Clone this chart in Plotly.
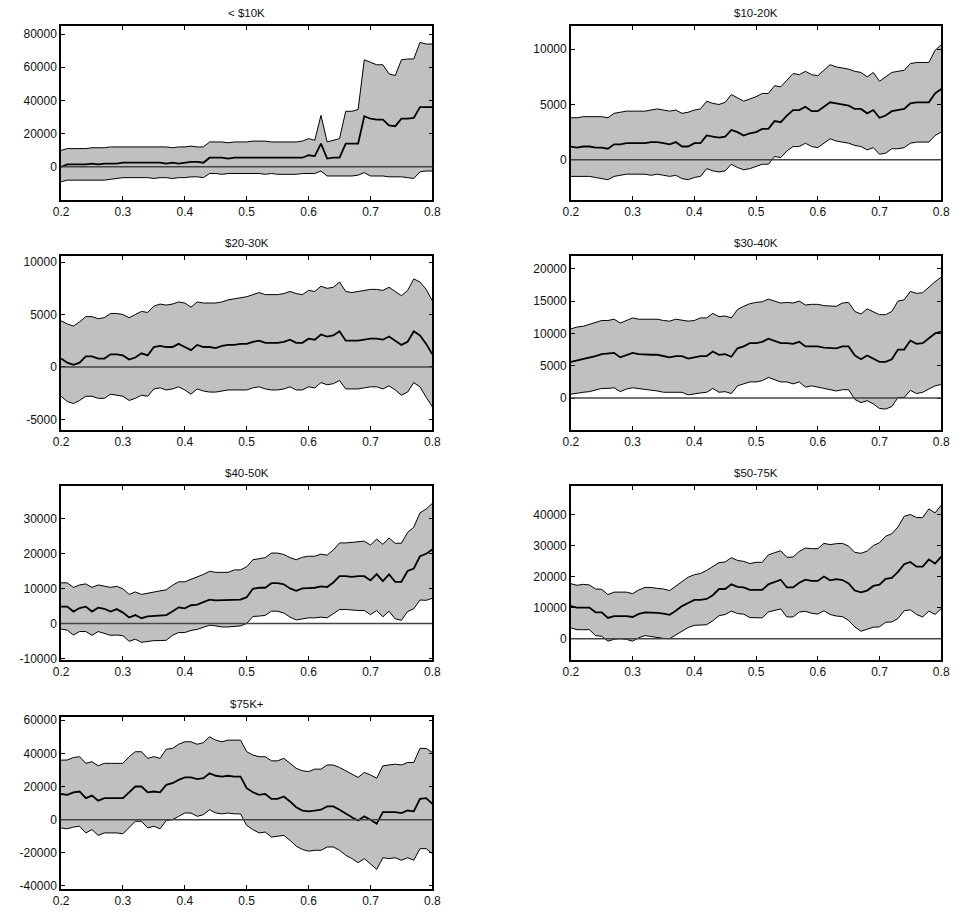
import plotly.graph_objects as go

x_vals = [round(0.20 + 0.01 * i, 2) for i in range(61)]

titles = ["< $10K", "$10-20K", "$20-30K", "$30-40K", "$40-50K", "$50-75K", "$75K+"]

# ---- < $10K
p1_upper = [9900, 11000, 11000, 11000, 11000, 11500, 11500, 11500, 12000, 12000,
            12000, 12000, 12000, 12000, 12000, 12000, 12000, 12000, 11500, 12000,
            12000, 12500, 12000, 12000, 15000, 15000, 15000, 14500, 15000, 15000,
            15000, 15500, 15500, 15500, 15000, 15000, 15000, 15000, 15000, 15500,
            17000, 16000, 31000, 15000, 16000, 17000, 33500, 33500, 34500, 64500,
            63000, 61500, 61500, 56000, 55000, 64500, 65000, 65000, 75000, 74000, 74000]
p1_mid = [0, 1500, 1500, 1500, 1500, 2000, 1500, 2000, 2000, 2000,
          2500, 2500, 2500, 2500, 2500, 2500, 2500, 2000, 2500, 2000,
          2500, 3000, 3000, 2500, 5500, 5500, 5500, 5000, 5500, 5500,
          5500, 5500, 5500, 5500, 5500, 5500, 5500, 5500, 5500, 5500,
          7000, 6500, 14000, 5000, 5500, 5500, 14000, 14000, 14000, 30500,
          29000, 28500, 28500, 25000, 24500, 29000, 29000, 29500, 36000, 36000, 36000]
p1_lower = [-9000, -8000, -8000, -8000, -8000, -8000, -8000, -8000, -7500, -7000,
            -6500, -6500, -6500, -6500, -6500, -7000, -6500, -6500, -7000, -6500,
            -6500, -6000, -6000, -6500, -4000, -4000, -4500, -4000, -4000, -4000,
            -4000, -4000, -4000, -4500, -4000, -4500, -4500, -4500, -4500, -4000,
            -4000, -4000, -2500, -5500, -5500, -5500, -5500, -5500, -5000, -3500,
            -5500, -5500, -5500, -6000, -6000, -6000, -6500, -7000, -3000, -2500, -2500]

# ---- $10-20K
p2_upper = [3800, 3800, 3900, 3900, 3900, 3900, 3800, 4200, 4300, 4400,
            4400, 4400, 4400, 4500, 4600, 4500, 4400, 4500, 4200, 4300,
            4500, 4600, 5300, 5100, 5000, 5200, 5900, 5600, 5300, 5500,
            5700, 6000, 6000, 6700, 6600, 7200, 7800, 7700, 8000, 7700,
            7600, 8100, 8600, 8400, 8300, 8200, 8000, 7900, 7500, 7900,
            7100, 7500, 7900, 8000, 8100, 8700, 8800, 8800, 8800, 9900, 10400]
p2_mid = [1200, 1100, 1200, 1200, 1100, 1100, 1000, 1400, 1400, 1500,
          1500, 1500, 1500, 1600, 1600, 1500, 1400, 1600, 1200, 1200,
          1500, 1500, 2200, 2100, 2000, 2100, 2700, 2500, 2200, 2400,
          2500, 2800, 2800, 3500, 3400, 4000, 4500, 4500, 4800, 4400,
          4400, 4800, 5200, 5100, 5000, 4900, 4600, 4600, 4200, 4500,
          3800, 4000, 4400, 4500, 4600, 5100, 5200, 5200, 5200, 6000, 6400]
p2_lower = [-1500, -1500, -1500, -1500, -1600, -1700, -1800, -1500, -1400, -1300,
            -1300, -1300, -1300, -1400, -1300, -1400, -1500, -1400, -1700, -1800,
            -1600, -1500, -800, -1000, -1100, -1000, -400, -700, -900, -800,
            -600, -400, -400, 300, 200, 800, 1200, 1200, 1500, 1200,
            1100, 1500, 1900, 1700, 1600, 1500, 1300, 1200, 900, 1100,
            500, 600, 1000, 1000, 1100, 1500, 1600, 1600, 1600, 2200, 2500]

# ---- $20-30K
p3_upper = [4400, 4100, 3900, 4300, 4800, 4800, 4600, 4700, 5100, 5100,
            5000, 4700, 5000, 5300, 5200, 5800, 6000, 5900, 6000, 6200,
            6100, 5700, 6200, 6100, 6100, 6100, 6200, 6400, 6500, 6600,
            6700, 6900, 7100, 6900, 6900, 6900, 7000, 7200, 7000, 6900,
            7300, 7200, 7700, 7500, 7600, 8100, 7200, 7100, 7200, 7300,
            7400, 7400, 7300, 7600, 7200, 6800, 7300, 8400, 8100, 7400, 6300]
p3_mid = [800, 400, 200, 400, 1000, 1000, 800, 800, 1200, 1200,
          1100, 700, 900, 1300, 1100, 1900, 2000, 1900, 1900, 2200,
          1900, 1600, 2100, 1900, 1900, 1800, 2000, 2100, 2100, 2200,
          2200, 2400, 2500, 2300, 2300, 2300, 2400, 2600, 2300, 2300,
          2700, 2600, 3100, 2900, 3000, 3400, 2500, 2500, 2500, 2600,
          2700, 2700, 2600, 2900, 2500, 2100, 2400, 3400, 3000, 2200, 1200]
p3_lower = [-2800, -3300, -3500, -3200, -2800, -2800, -3000, -3000, -2600, -2700,
            -2800, -3200, -3000, -2700, -2800, -2100, -2000, -2200, -2100, -1900,
            -2200, -2600, -2100, -2300, -2400, -2400, -2300, -2200, -2200, -2200,
            -2200, -2000, -1900, -2100, -2200, -2200, -2100, -1900, -2200, -2200,
            -1900, -2000, -1500, -1700, -1600, -1300, -2100, -2100, -2100, -2000,
            -1900, -1900, -2100, -1800, -2200, -2700, -2400, -1500, -1900, -2900, -3800]

# ---- $30-40K
p4_upper = [10700, 11000, 11100, 11400, 11700, 12000, 12000, 12200, 11600, 12000,
            12400, 12200, 12200, 12200, 12200, 12000, 11900, 12200, 12100, 11900,
            12000, 12400, 12400, 13100, 12600, 12700, 12400, 13700, 14200, 14600,
            14800, 14900, 15300, 15000, 14700, 14800, 14700, 15000, 14400, 14500,
            14500, 14300, 14200, 14200, 14700, 14800, 13400, 13000, 13800, 13300,
            12900, 12900, 13400, 15000, 15200, 16500, 16200, 16300, 17200, 18000, 18700]
p4_mid = [5600, 5800, 6000, 6200, 6500, 6800, 6900, 7000, 6300, 6700,
          7000, 6800, 6700, 6700, 6700, 6500, 6300, 6500, 6500, 6100,
          6300, 6500, 6500, 7200, 6700, 6800, 6400, 7700, 8000, 8500,
          8500, 8700, 9200, 8900, 8500, 8500, 8400, 8700, 8000, 8000,
          8000, 7800, 7700, 7700, 8000, 8000, 6600, 6000, 6600, 6100,
          5600, 5600, 6000, 7500, 7500, 8900, 8400, 8500, 9300, 10000, 10300]
p4_lower = [600, 800, 900, 1000, 1300, 1500, 1500, 1600, 1000, 1400,
            1600, 1500, 1300, 1200, 1100, 900, 900, 900, 900, 500,
            700, 800, 900, 1500, 900, 1000, 700, 1900, 2200, 2500,
            2500, 2700, 3200, 2900, 2500, 2500, 2200, 2500, 1700, 1900,
            1700, 1500, 1300, 1100, 1300, 1300, -200, -700, -400, -900,
            -1600, -1700, -1300, 100, 100, 1200, 700, 900, 1400, 1900, 2100]

# ---- $40-50K
p5_upper = [11600, 11600, 10300, 11000, 11300, 10300, 11000, 10600, 10300, 10600,
            9900, 8300, 9000, 8300, 8700, 9000, 9300, 9600, 10900, 11900,
            11900, 12600, 13200, 14000, 14900, 14600, 14600, 14600, 15300, 15300,
            16200, 18200, 18500, 18800, 20100, 20100, 19700, 18800, 18200, 18900,
            19200, 19200, 19800, 19500, 21000, 23000, 23000, 23200, 23500, 23500,
            22400, 24100, 22600, 24400, 22900, 22900, 26000, 27500, 31600, 32700, 34300]
p5_mid = [4800, 4800, 3400, 4400, 4800, 3400, 4500, 4200, 3400, 4100,
          3100, 1700, 2400, 1500, 2000, 2200, 2200, 2400, 3400, 4600,
          4300, 5200, 5400, 6000, 6800, 6600, 6600, 6600, 6700, 6800,
          7500, 9900, 10200, 10200, 11500, 11500, 11200, 10000, 9300, 10000,
          10100, 10200, 10600, 10400, 11700, 13500, 13500, 13300, 13500, 13500,
          12300, 14100, 12100, 14000, 11900, 11900, 15000, 15700, 19200, 19900, 21100]
p5_lower = [-1600, -1900, -3300, -2300, -2300, -3400, -2300, -2800, -3400, -3300,
            -3500, -5100, -4500, -5400, -5100, -4900, -4900, -4800, -3400, -2600,
            -2600, -2000, -1700, -1000, -500, -700, -1000, -1000, -800, -700,
            0, 2000, 2100, 2300, 3500, 3500, 3000, 1800, 1000, 1300,
            1600, 1600, 1800, 1600, 2700, 4000, 4000, 3800, 3700, 3700,
            2500, 3700, 1900, 3500, 1300, 900, 3400, 4200, 6700, 6600, 7200]

# ---- $50-75K
p6_upper = [17700, 17200, 17500, 17300, 16000, 15900, 14200, 15000, 15000, 15000,
            14500, 15700, 16500, 16500, 16200, 16000, 15500, 17000, 18500, 19800,
            20600, 21000, 22000, 23200, 24500, 24700, 26100, 25200, 24900, 24200,
            24600, 24600, 27000, 27700, 28300, 26200, 26300, 28100, 29200, 29000,
            29000, 30700, 30300, 30600, 30700, 29800, 27800, 27500, 28200, 30000,
            30900, 33000, 33800, 36000, 39400, 40000, 39000, 39000, 41800, 40500, 43000]
p6_mid = [10500, 10000, 10000, 10000, 8500, 8500, 6700, 7300, 7300, 7300,
          7000, 8000, 8500, 8500, 8300, 8100, 7700, 9000, 10500, 11500,
          12500, 12500, 12800, 14000, 16000, 16000, 17500, 16700, 16500, 15700,
          15700, 15700, 17500, 18200, 19000, 16500, 16500, 18000, 19000, 18600,
          18600, 20000, 18800, 19200, 18900, 17800, 15500, 14900, 15500, 17000,
          17400, 19300, 19600, 21500, 24000, 24700, 23200, 23200, 25500, 24200, 26400]
p6_lower = [3500, 2900, 2900, 2900, 1000, 800, -800, -200, 0, -200,
            -800, 300, 1000, 700, 300, 100, 0, 1200, 2200, 3600,
            4300, 4300, 4500, 5800, 7400, 7800, 8900, 8100, 7900, 6800,
            6700, 6700, 8600, 9200, 9600, 7000, 7000, 8600, 8800, 8200,
            7900, 9000, 7800, 7300, 7100, 5900, 3800, 2400, 3000, 3700,
            3800, 5300, 5400, 6500, 9000, 9300, 7800, 7000, 8900, 7800, 9700]

# ---- $75K+
p7_upper = [35900, 36000, 37500, 38000, 34000, 35000, 32500, 34000, 34000, 34000,
            34000, 38000, 41000, 41000, 37000, 38000, 37000, 42500, 43000, 45500,
            47000, 47000, 45500, 46500, 50000, 48000, 47000, 48000, 48000, 48000,
            41000, 39000, 38000, 38000, 35500, 35500, 37000, 34000, 31000, 29500,
            29000, 30500, 30500, 33000, 33000, 31500, 29500, 27500, 25500, 28500,
            27000, 25000, 32500, 33000, 33500, 33000, 34500, 34500, 43000, 43000, 40500]
p7_mid = [15500, 15000, 16500, 17000, 13000, 14500, 11500, 13000, 13000, 13000,
          13000, 16500, 20000, 20000, 16500, 17000, 16500, 21000, 22000, 24000,
          25500, 25500, 24500, 25000, 28000, 26500, 26000, 26500, 26000, 26000,
          19000, 16500, 15000, 15500, 12500, 12500, 14000, 11000, 7500, 5500,
          5000, 5500, 6000, 8000, 8000, 6000, 3500, 1500, -500, 2000,
          0, -2500, 4500, 4500, 4500, 4000, 5500, 5000, 12500, 13000, 9500]
p7_lower = [-5000, -5500, -4500, -4000, -8000, -6000, -9500, -8000, -8000, -8000,
            -8500, -4500, -1000, -1000, -5000, -4000, -5500, -500, 0, 2000,
            4000, 4000, 2000, 3000, 6000, 4000, 3500, 4000, 3500, 3500,
            -3500, -6000, -8000, -7500, -10500, -10000, -9500, -12500, -16000, -18000,
            -19000, -18500, -18500, -16500, -16500, -18500, -21500, -23500, -26000, -23500,
            -27000, -30000, -23000, -23500, -23000, -24500, -23000, -24500, -17500, -17500, -20500]

x_ticks = [0.2, 0.3, 0.4, 0.5, 0.6, 0.7, 0.8]
x_tick_text = ["0.2", "0.3", "0.4", "0.5", "0.6", "0.7", "0.8"]

y_ticks = [
    [0, 20000, 40000, 60000, 80000],
    [0, 5000, 10000],
    [-5000, 0, 5000, 10000],
    [0, 5000, 10000, 15000, 20000],
    [-10000, 0, 10000, 20000, 30000],
    [0, 10000, 20000, 30000, 40000],
    [-40000, -20000, 0, 20000, 40000, 60000],
]
y_tick_text = [[str(v) for v in t] for t in y_ticks]

y_ranges = [
    [-20000, 85000],
    [-3640, 12120],
    [-6000, 10540],
    [-4900, 21900],
    [-10300, 39200],
    [-6700, 49100],
    [-42000, 62000],
]

panels = [
    (p1_lower, p1_mid, p1_upper),
    (p2_lower, p2_mid, p2_upper),
    (p3_lower, p3_mid, p3_upper),
    (p4_lower, p4_mid, p4_upper),
    (p5_lower, p5_mid, p5_upper),
    (p6_lower, p6_mid, p6_upper),
    (p7_lower, p7_mid, p7_upper),
]

W, H = 962, 919
col_x = [(54, 432), (573, 950)]
row_y = [(23, 199), (256, 431), (488, 663), (721, 895)]

fig = go.Figure()
font_family = "Liberation Sans, Arial, sans-serif"

for i, (lo, mid, up) in enumerate(panels):
    r, c = divmod(i, 2)
    n = i + 1
    xa = "x" if n == 1 else f"x{n}"
    ya = "y" if n == 1 else f"y{n}"
    fig.add_trace(go.Scatter(x=x_vals, y=lo, mode="lines", xaxis=xa, yaxis=ya,
                             line=dict(color="black", width=1), showlegend=False))
    fig.add_trace(go.Scatter(x=x_vals, y=up, mode="lines", xaxis=xa, yaxis=ya,
                             fill="tonexty", fillcolor="#c0c0c0",
                             line=dict(color="black", width=1), showlegend=False))
    fig.add_trace(go.Scatter(x=x_vals, y=mid, mode="lines", xaxis=xa, yaxis=ya,
                             line=dict(color="black", width=1.8), showlegend=False))

    x0, x1 = col_x[c]
    t0, t1 = row_y[r]
    xkey = "xaxis" if n == 1 else f"xaxis{n}"
    ykey = "yaxis" if n == 1 else f"yaxis{n}"
    axis_common = dict(showgrid=False, zeroline=False, showline=True, linecolor="black",
                       linewidth=1.5, mirror="ticks", ticks="inside", ticklen=4,
                       tickcolor="black", tickwidth=1,
                       tickfont=dict(family=font_family, size=12, color="#111"))
    fig.update_layout(**{
        xkey: dict(domain=[x0 / W, x1 / W], anchor=ya, range=[0.2, 0.8],
                   tickvals=x_ticks, ticktext=x_tick_text, **axis_common),
        ykey: dict(domain=[1 - t1 / H, 1 - t0 / H], anchor=xa, range=y_ranges[i],
                   tickvals=y_ticks[i], ticktext=y_tick_text[i], **axis_common),
    })
    fig.add_shape(type="line", xref=f"{xa} domain", yref=ya, x0=0, x1=1, y0=0, y1=0,
                  line=dict(color="#444", width=1.5), layer="above")
    fig.add_annotation(text=titles[i], xref="paper", yref="paper",
                       x=(x0 + x1) / 2 / W, y=1 - t0 / H, yshift=13,
                       xanchor="center", yanchor="middle", showarrow=False,
                       font=dict(family=font_family, size=11.5, color="#111"))

fig.update_layout(width=W, height=H, margin=dict(l=0, r=0, t=0, b=0),
                  paper_bgcolor="white", plot_bgcolor="white",
                  font=dict(family=font_family, color="#111"))

fig.write_html("out.html")
